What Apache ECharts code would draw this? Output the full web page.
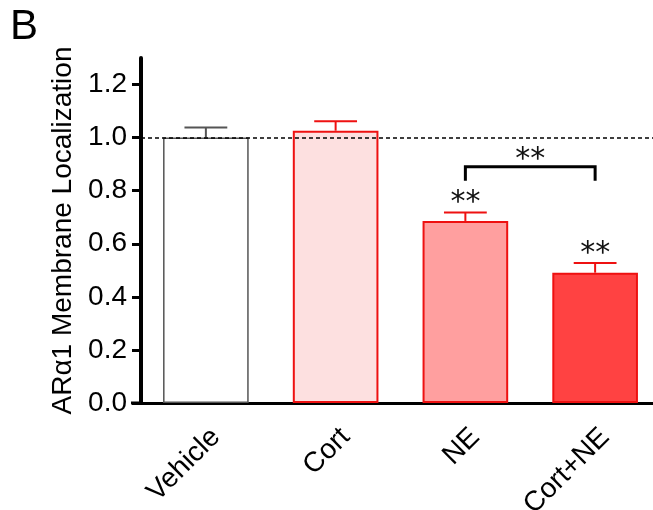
<!DOCTYPE html>
<html>
<head>
<meta charset="utf-8">
<script src="https://cdn.jsdelivr.net/npm/echarts@6/dist/echarts.min.js"></script>
<style>
  html, body { margin: 0; padding: 0; background: #fff; }
  #chart { width: 653px; height: 510px; }
</style>
</head>
<body>
<div id="chart"></div>
<script>
// data
const categories = ['Vehicle', 'Cort', 'NE', 'Cort+NE'];
const means = [1.0, 1.026, 0.686, 0.491];
const errTops = [1.038, 1.062, 0.718, 0.528];
const sigLabels = ['', '', '**', '**'];
const bracketPair = [2, 3];
const bracketLevels = [0.837, 0.890];
const bracketLabel = '**';
const yTicks = [0, 0.2, 0.4, 0.6, 0.8, 1.0, 1.2];

const fills = ['#ffffff', '#fde0e0', '#ff9f9f', '#ff4242'];
const borders = ['#555555', '#ee1111', '#ee1111', '#ee1111'];
const FONT = 'Liberation Sans, Arial, sans-serif';

const myChart = echarts.init(document.getElementById('chart'));

// error bar: stem + cap, only upward
function renderErr (params, api) {
    const i = api.value(0);
    const base = api.coord([i, api.value(1)]);
    const top = api.coord([i, api.value(2)]);
    const half = api.size([1, 0])[0] * 0.66 / 4;
    const style = { stroke: borders[i], lineWidth: 2 };
    return {
        type: 'group',
        children: [
            { type: 'line', shape: { x1: base[0], y1: base[1], x2: top[0], y2: top[1] }, style },
            { type: 'line', shape: { x1: top[0] - half, y1: top[1], x2: top[0] + half, y2: top[1] }, style },
            {
                type: 'text',
                style: {
                    text: sigLabels[i], x: top[0], y: top[1] - 9,
                    align: 'center', verticalAlign: 'middle',
                    font: '30px DejaVu Sans', fill: '#111'
                }
            }
        ]
    };
}

function renderBracket (params, api) {
    const a = api.coord([api.value(0), api.value(2)]);
    const b = api.coord([api.value(1), api.value(2)]);
    const hi = api.coord([api.value(0), api.value(3)])[1];
    const style = { stroke: '#000', lineWidth: 3, fill: null };
    return {
        type: 'group',
        children: [
            { type: 'polyline', shape: { points: [[a[0], a[1]], [a[0], hi], [b[0], hi], [b[0], b[1]]] }, style },
            {
                type: 'text',
                style: {
                    text: bracketLabel, x: (a[0] + b[0]) / 2, y: hi - 7,
                    align: 'center', verticalAlign: 'middle',
                    font: '30px DejaVu Sans', fill: '#111'
                }
            }
        ]
    };
}

myChart.setOption({
    animation: false,
    grid: { left: 141, top: 58, width: 519, height: 345, outerBoundsMode: 'none', containLabel: false },
    xAxis: {
        type: 'category',
        data: categories,
        axisLine: { lineStyle: { color: '#000', width: 3 } },
        axisTick: { alignWithLabel: true, length: 9, lineStyle: { color: '#000', width: 3 } },
        axisLabel: {
            rotate: 45, margin: 20, color: '#000', fontSize: 28, fontFamily: FONT, interval: 0,
            align: 'right', verticalAlign: 'top'
        }
    },
    yAxis: {
        type: 'value',
        min: 0,
        max: 1.3,
        name: 'AR\u03b11 Membrane Localization',
        nameLocation: 'middle',
        nameGap: 63,
        nameTextStyle: { color: '#000', fontSize: 28, fontFamily: FONT },
        splitLine: { show: false },
        axisLine: { show: true, lineStyle: { color: '#000', width: 4 } },
        axisTick: { show: true, length: 9, lineStyle: { color: '#000', width: 3 }, customValues: yTicks },
        axisLabel: {
            margin: 14, color: '#000', fontSize: 28, fontFamily: FONT, customValues: yTicks,
            formatter: v => v.toFixed(1)
        }
    },
    graphic: [
        { type: 'text', left: 10, top: 6, style: { text: 'B', font: '42px ' + FONT, fill: '#000' } },
        { type: 'line', shape: { x1: 131, y1: 403, x2: 141, y2: 403 }, style: { stroke: '#000', lineWidth: 3 } }
    ],
    series: [
        {
            type: 'bar',
            barWidth: '66%',
            data: means.map((v, i) => ({
                value: v,
                itemStyle: { color: fills[i], borderColor: borders[i], borderWidth: i === 0 ? 1.5 : 2 }
            })),
            markLine: {
                silent: true,
                symbol: 'none',
                label: { show: false },
                lineStyle: { color: '#000', type: [4, 3], width: 1.6 },
                data: [{ yAxis: 1 }]
            }
        },
        {
            type: 'custom',
            renderItem: renderErr,
            data: means.map((v, i) => [i, v, errTops[i]]),
            z: 3
        },
        {
            type: 'custom',
            renderItem: renderBracket,
            data: [[bracketPair[0], bracketPair[1], bracketLevels[0], bracketLevels[1]]],
            z: 3
        }
    ]
});
</script>
</body>
</html>
